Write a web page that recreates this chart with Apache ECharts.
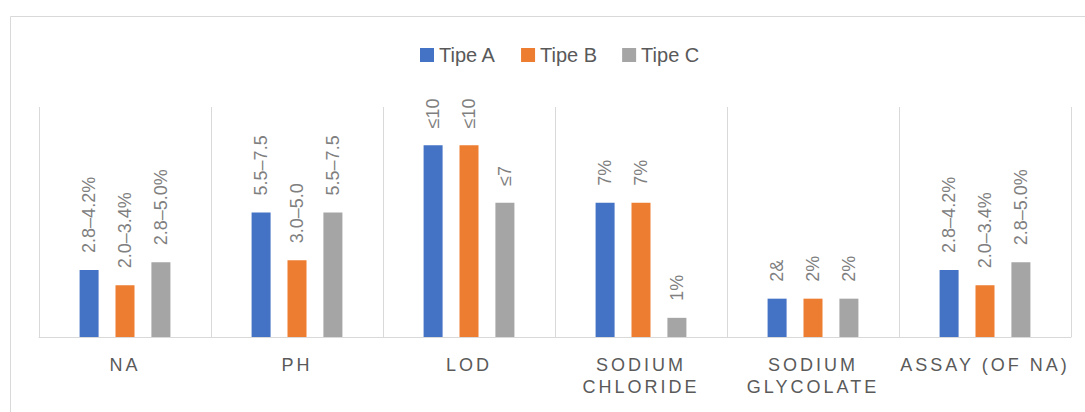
<!DOCTYPE html>
<html>
<head>
<meta charset="utf-8">
<script src="https://cdn.jsdelivr.net/npm/echarts@6/dist/echarts.min.js"></script>
<style>
  html, body { margin: 0; padding: 0; background: #fff; overflow: hidden; }
  #chart { width: 1085px; height: 412px; }
  #chart text[fill="#5a5a5a" i] { letter-spacing: 3px; }
</style>
</head>
<body>
<div id="chart"></div>
<script>
const categories = ['NA', 'PH', 'LOD', 'SODIUM CHLORIDE', 'SODIUM GLYCOLATE', 'ASSAY (OF NA)'];
const seriesNames = ['Tipe A', 'Tipe B', 'Tipe C'];
const tipeA = [3.5, 6.5, 10, 7, 2, 3.5];
const tipeB = [2.7, 4.0, 10, 7, 2, 2.7];
const tipeC = [3.9, 6.5, 7, 1, 2, 3.9];
const labelsA = ['2.8–4.2%', '5.5–7.5', '≤10', '7%', '2&', '2.8–4.2%'];
const labelsB = ['2.0–3.4%', '3.0–5.0', '≤10', '7%', '2%', '2.0–3.4%'];
const labelsC = ['2.8–5.0%', '5.5–7.5', '≤7', '1%', '2%', '2.8–5.0%'];

const colors = ['#4472C4', '#ED7D31', '#A5A5A5'];
const FONT = "'Liberation Sans', Arial, sans-serif";

function makeSeries(name, values, labels, color) {
  return {
    name: name,
    type: 'bar',
    barWidth: 19,
    barGap: '89%',
    itemStyle: { color: color },
    data: values,
    label: {
      show: true,
      position: 'top',
      rotate: 90,
      align: 'left',
      verticalAlign: 'middle',
      distance: 17,
      color: '#7f7f7f',
      fontSize: 18,
      fontFamily: FONT,
      formatter: p => labels[p.dataIndex]
    }
  };
}

const chart = echarts.init(document.getElementById('chart'), null, { renderer: 'svg' });
chart.setOption({
  animation: false,
  color: colors,
  graphic: [{
    type: 'rect',
    silent: true,
    z: -10,
    shape: { x: 10.5, y: 16.5, width: 1200, height: 500 },
    style: { fill: 'none', stroke: '#d9d9d9', lineWidth: 1 }
  }],
  legend: {
    data: seriesNames,
    left: 420,
    top: 45,
    padding: 0,
    icon: 'rect',
    itemWidth: 14,
    itemHeight: 14,
    itemGap: 25,
    textStyle: { color: '#595959', fontSize: 20, fontFamily: FONT }
  },
  grid: { left: 39, right: 14, top: 107, bottom: 75, containLabel: false },
  xAxis: {
    type: 'category',
    data: categories,
    axisLine: { show: true, lineStyle: { color: '#d9d9d9', width: 1 } },
    axisTick: { show: false },
    splitLine: { show: true, lineStyle: { color: '#d9d9d9', width: 1 } },
    axisLabel: {
      color: '#5a5a5a',
      fontSize: 18,
      fontFamily: FONT,
      lineHeight: 22,
      margin: 17,
      interval: 0,
      formatter: v => v.replace(/^SODIUM /, 'SODIUM\n')
    }
  },
  yAxis: {
    type: 'value',
    min: 0,
    max: 12,
    show: false,
    splitLine: { show: false }
  },
  series: [
    makeSeries(seriesNames[0], tipeA, labelsA, colors[0]),
    makeSeries(seriesNames[1], tipeB, labelsB, colors[1]),
    makeSeries(seriesNames[2], tipeC, labelsC, colors[2])
  ]
});
</script>
</body>
</html>
